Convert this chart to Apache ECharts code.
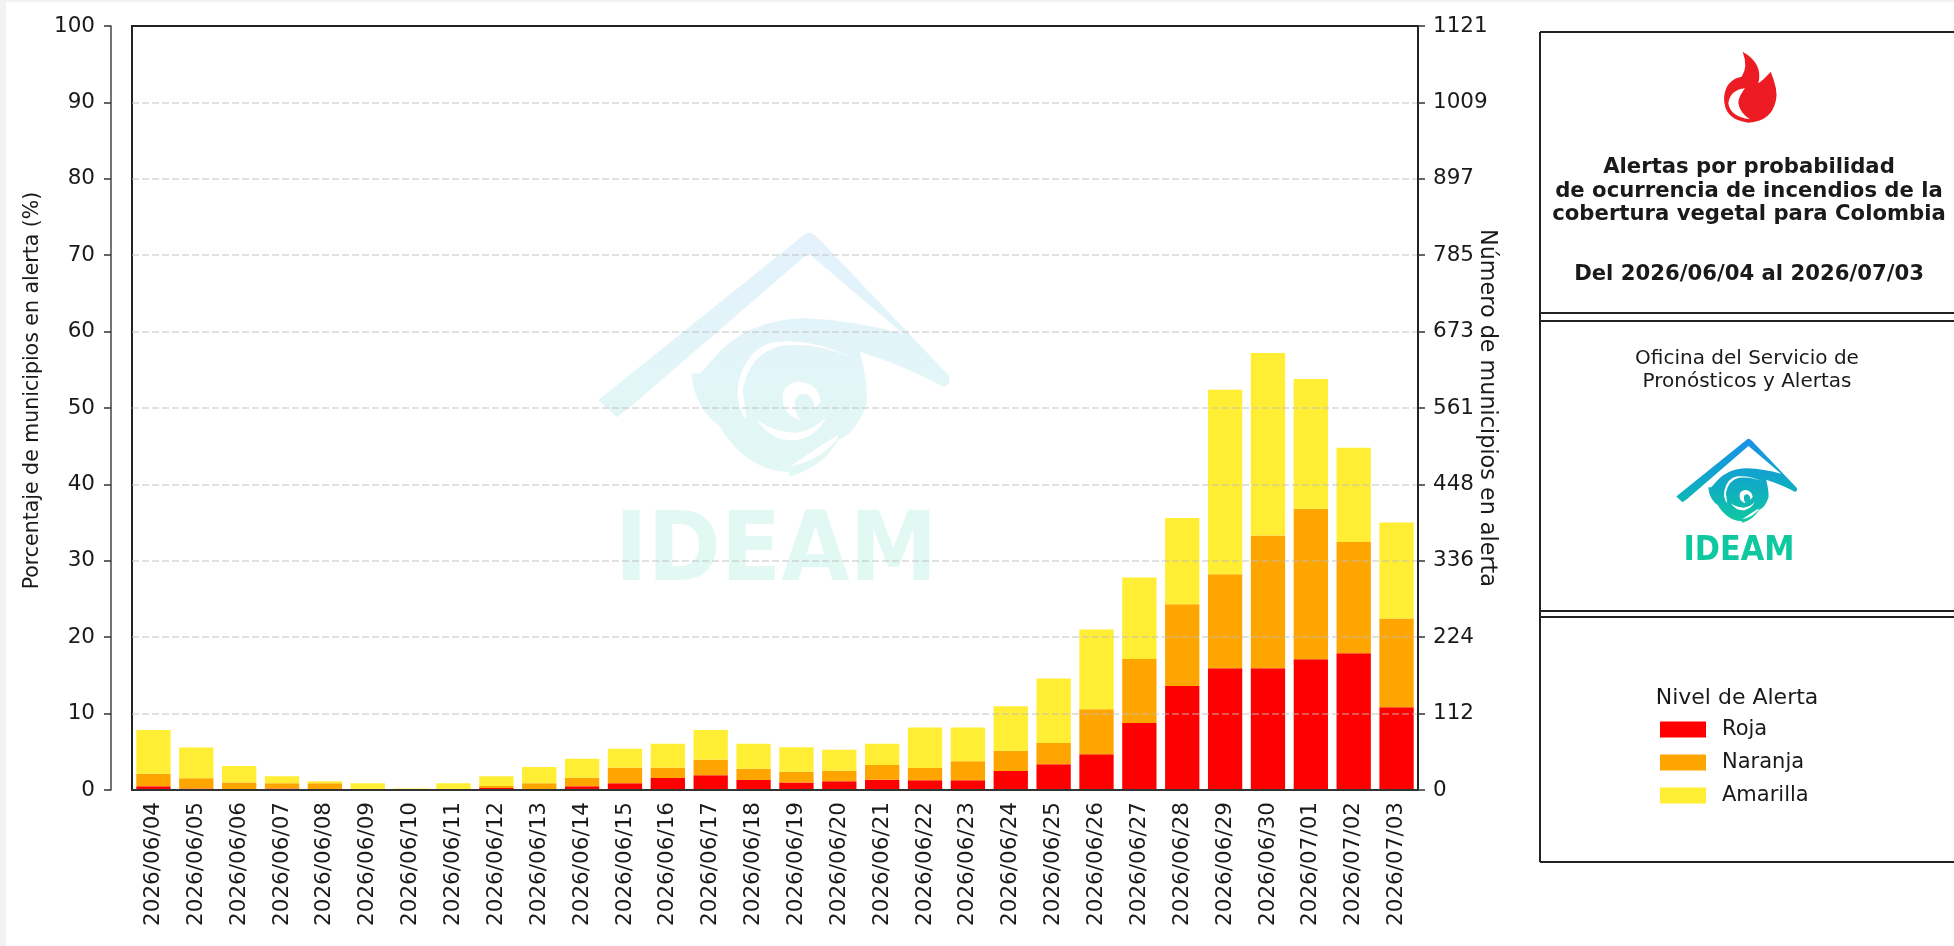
<!DOCTYPE html>
<html>
<head>
<meta charset="utf-8">
<title>Alertas IDEAM</title>
<script src="https://cdn.jsdelivr.net/npm/echarts@6/dist/echarts.min.js"></script>
<style>
html, body { margin: 0; padding: 0; background: #f2f2f2; }
#chart { width: 1954px; height: 946px; }
</style>
</head>
<body>
<div id="chart"></div>
<script>
var dates = ['2026/06/04','2026/06/05','2026/06/06','2026/06/07','2026/06/08','2026/06/09','2026/06/10','2026/06/11','2026/06/12','2026/06/13',
    '2026/06/14','2026/06/15','2026/06/16','2026/06/17','2026/06/18','2026/06/19','2026/06/20','2026/06/21','2026/06/22','2026/06/23',
    '2026/06/24','2026/06/25','2026/06/26','2026/06/27','2026/06/28','2026/06/29','2026/06/30','2026/07/01','2026/07/02','2026/07/03'];
var roja = [0.5,0.18,0,0.18,0.09,0,0,0,0.27,0,0.5,0.89,1.56,1.92,1.3,0.98,1.13,1.35,1.27,1.27,2.49,3.36,4.67,8.78,13.6,15.94,15.94,17.1,17.9,10.83];
var naranja = [1.64,1.35,0.98,0.71,0.8,0.09,0.09,0,0.26,0.89,1.1,2.01,1.34,2.05,1.47,1.42,1.4,1.92,1.61,2.49,2.66,2.8,5.9,8.38,10.7,12.31,17.36,19.7,14.55,11.62];
var amarilla = [5.72,4.02,2.16,0.91,0.27,0.8,0.11,0.89,1.27,2.11,2.5,2.5,3.17,3.89,3.3,3.2,2.75,2.8,5.29,4.41,5.81,8.44,10.43,10.64,11.3,24.15,23.9,17,12.35,12.55];
var rightTicks = [0,112,224,336,448,561,673,785,897,1009,1121];

var FONT = '"DejaVu Sans"';
var TXT = '#1a1a1a';

// logo outlines, holes are wound the other way round
var LOGO_PATH = 'M740 68 Q758 66 775 85 L1165 495 Q1175 515 1152 530 L1030 372 L745 130 L210 592 L170 622 L115 570 Z ' +
    'M465 440 Q560 330 730 325 Q880 330 1030 372 L1168 505 Q1172 525 1150 530 Q1040 470 900 425 Q925 530 920 580 Q890 670 835 690 Q790 770 690 800 Q680 790 690 785 C600 790 520 720 480 650 Q400 590 395 490 L420 490 Q440 470 465 440 Z ' +
    'M880 445 Q760 385 650 395 Q560 410 535 520 Q525 590 560 630 L548 540 Q570 430 660 408 Q770 395 880 445 Z ' +
    'M782 575 Q775 518 715 515 Q665 522 668 570 Q672 615 720 630 Q700 600 705 570 Q715 545 745 555 Q765 570 762 600 Z ' +
    'M590 630 Q640 700 710 690 Q770 680 800 620 Q760 660 710 668 Q650 670 590 630 Z ' +
    'M835 675 Q790 700 690 770 Q780 750 830 690 Z';
var FLAME_PATH = 'M728 155 Q790 190 775 250 Q790 240 812 215 Q835 270 828 300 Q815 365 745 368 Q672 360 672 295 Q675 240 725 230 Q745 200 728 155 Z ' +
    'M735 265 Q690 270 685 310 Q690 350 750 358 Q720 340 715 310 Q715 290 735 265 Z';

echarts.graphic.registerShape('logoShape', echarts.graphic.extendPath(LOGO_PATH, {}));
echarts.graphic.registerShape('flameShape', echarts.graphic.extendPath(FLAME_PATH, {}));

function logoFill() {
    return new echarts.graphic.LinearGradient(0, 0, 0, 1, [
        { offset: 0, color: '#1a90e8' },
        { offset: 0.5, color: '#10a8c8' },
        { offset: 1, color: '#10c8a0' }
    ]);
}

function logo(x, y, scale, opacity) {
    return {
        type: 'group', x: x, y: y, scaleX: scale, scaleY: scale, silent: true,
        children: [{
            type: 'logoShape',
            style: { fill: logoFill(), opacity: opacity }
        }]
    };
}

function logoText(x, y, size, opacity) {
    return {
        type: 'text', x: x, y: y, scaleX: 0.92, silent: true,
        style: { text: 'IDEAM', font: 'bold ' + size + 'px ' + FONT, fill: '#10c8a0', opacity: opacity, align: 'center', verticalAlign: 'middle' }
    };
}

function label(x, y, text, size, weight) {
    return {
        type: 'text', x: x, y: y, silent: true,
        style: { text: text, font: (weight || 'normal') + ' ' + size + 'px ' + FONT, fill: TXT, align: 'center', verticalAlign: 'middle' }
    };
}

function hline(y) {
    return { type: 'line', silent: true, shape: { x1: 1540, y1: y, x2: 1954, y2: y }, style: { stroke: '#222', lineWidth: 2 } };
}

var chart = echarts.init(document.getElementById('chart'));
chart.setOption({
    animation: false,
    textStyle: { fontFamily: FONT },
    grid: { left: 132, right: 536, top: 26, bottom: 156, show: true, borderColor: '#222', borderWidth: 2, z: 1 },
    legend: {
        left: 1655, top: 714, orient: 'vertical', icon: 'rect', selectedMode: false,
        itemWidth: 46, itemHeight: 16, itemGap: 12,
        textStyle: { fontSize: 21, color: TXT, fontFamily: FONT, padding: [0, 0, 0, 11] },
        data: ['Roja', 'Naranja', 'Amarilla']
    },
    xAxis: {
        type: 'category',
        data: dates,
        axisTick: { alignWithLabel: true, length: 7, lineStyle: { color: '#333', width: 1.5 } },
        axisLine: { lineStyle: { color: '#333', width: 2 } },
        axisLabel: { rotate: 90, interval: 0, margin: 12, fontSize: 21.5, color: TXT, fontFamily: FONT },
        z: 3
    },
    yAxis: [{
        type: 'value', min: 0, max: 100, interval: 10, position: 'left', offset: 21, z: 3,
        name: 'Porcentaje de municipios en alerta (%)', nameLocation: 'middle', nameGap: 68, nameMoveOverlap: false,
        nameTextStyle: { fontSize: 20.5, color: TXT, fontFamily: FONT, padding: [0, 0, 0, 35] },
        axisLine: { show: true, lineStyle: { color: '#444', width: 1.5 } },
        axisTick: { show: true, length: 7, lineStyle: { color: '#333', width: 1.5 } },
        axisLabel: { margin: 16, fontSize: 21.5, color: TXT, fontFamily: FONT },
        splitLine: { show: true, showMinLine: false, showMaxLine: false, lineStyle: { color: 'rgba(190,190,190,0.6)', width: 1.5, type: [7, 3] } }
    }, {
        type: 'value', min: 0, max: 1121, interval: 112.1, position: 'right', z: 3,
        name: 'Número de municipios en alerta', nameLocation: 'middle', nameGap: 58, nameRotate: -90, nameMoveOverlap: false,
        nameTextStyle: { fontSize: 22.3, color: TXT, fontFamily: FONT },
        axisLine: { show: true, lineStyle: { color: '#222', width: 2 } },
        axisTick: { show: true, length: 7, lineStyle: { color: '#333', width: 1.5 } },
        axisLabel: {
            margin: 15, fontSize: 21.5, color: TXT, fontFamily: FONT,
            formatter: function (v) { return rightTicks[Math.round(v / 112.1)]; }
        },
        splitLine: { show: false }
    }],
    series: [
        { name: 'Roja', type: 'bar', stack: 'alerta', barWidth: '80%', data: roja, itemStyle: { color: '#ff0000' } },
        { name: 'Naranja', type: 'bar', stack: 'alerta', barWidth: '80%', data: naranja, itemStyle: { color: '#ffa500' } },
        { name: 'Amarilla', type: 'bar', stack: 'alerta', barWidth: '80%', data: amarilla, itemStyle: { color: '#ffee33' } }
    ],
    graphic: [
        { type: 'rect', z: -10, silent: true, shape: { x: 6, y: 2, width: 1948, height: 944 }, style: { fill: '#fff' } },

        // watermark
        logo(560, 210, 1 / 3, 0.12),
        logoText(776, 555, 96, 0.12),

        // side panel
        { type: 'line', silent: true, shape: { x1: 1540, y1: 32, x2: 1540, y2: 862 }, style: { stroke: '#222', lineWidth: 2 } },
        hline(32), hline(313), hline(321), hline(611), hline(617), hline(862),
        { type: 'group', x: 1500, y: 0, scaleX: 1 / 3, scaleY: 1 / 3, silent: true, children: [
            { type: 'flameShape', style: { fill: '#ed1c24' } }
        ] },
        label(1749, 167, 'Alertas por probabilidad', 21.2, 'bold'),
        label(1749, 191, 'de ocurrencia de incendios de la', 21.2, 'bold'),
        label(1749, 214, 'cobertura vegetal para Colombia', 21.2, 'bold'),
        label(1749, 274, 'Del 2026/06/04 al 2026/07/03', 21.2, 'bold'),
        label(1747, 359, 'Oficina del Servicio de', 20, 'normal'),
        label(1747, 382, 'Pronósticos y Alertas', 20, 'normal'),
        logo(1663, 431, 0.1147, 1),
        logoText(1739, 551, 33, 1),
        label(1737, 698, 'Nivel de Alerta', 22, 'normal')
    ]
});
</script>
</body>
</html>
